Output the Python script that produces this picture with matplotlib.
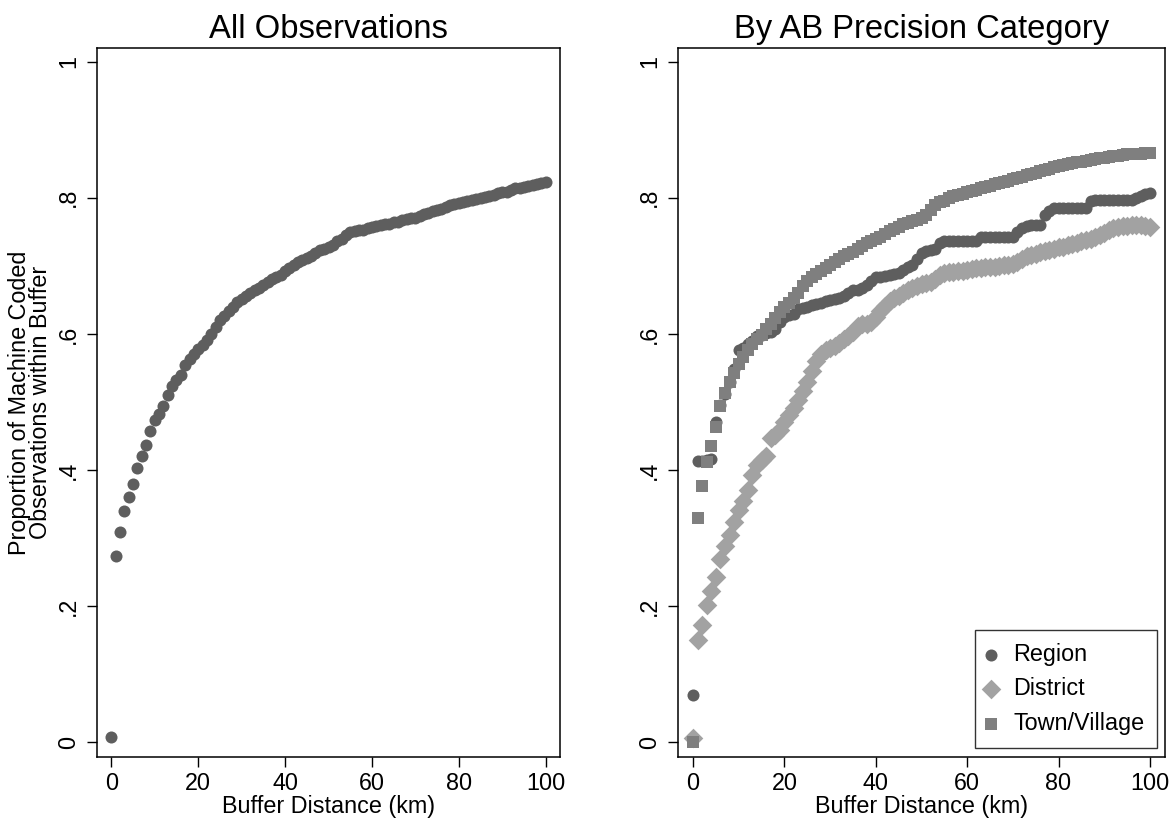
import matplotlib
matplotlib.use("Agg")
import matplotlib.pyplot as plt
import numpy as np

plt.rcParams['font.family'] = ['Liberation Sans', 'DejaVu Sans']

# buffer distance in km, one point per km
km = list(range(0, 101))

# All observations
all_obs = [0.008, 0.274, 0.309, 0.340, 0.360, 0.380, 0.403, 0.420, 0.437, 0.457,
           0.473, 0.482, 0.494, 0.511, 0.523, 0.532, 0.539, 0.554, 0.563, 0.570,
           0.578, 0.584, 0.591, 0.600, 0.610, 0.621, 0.627, 0.633, 0.640, 0.647,
           0.651, 0.656, 0.660, 0.664, 0.667, 0.672, 0.676, 0.681, 0.683, 0.686,
           0.693, 0.697, 0.701, 0.705, 0.709, 0.712, 0.714, 0.719, 0.723, 0.725,
           0.728, 0.731, 0.736, 0.740, 0.745, 0.750, 0.751, 0.752, 0.753, 0.755,
           0.757, 0.759, 0.760, 0.761, 0.762, 0.764, 0.765, 0.767, 0.769, 0.770,
           0.771, 0.773, 0.776, 0.778, 0.780, 0.782, 0.784, 0.786, 0.789, 0.791,
           0.792, 0.794, 0.795, 0.797, 0.798, 0.800, 0.801, 0.802, 0.804, 0.807,
           0.808, 0.809, 0.812, 0.814, 0.815, 0.816, 0.818, 0.819, 0.820, 0.822,
           0.823]

# by AB precision category
region = [0.069, 0.414, 0.414, 0.415, 0.416, 0.470, 0.495, 0.512, 0.530, 0.548,
          0.576, 0.580, 0.585, 0.590, 0.597, 0.599, 0.601, 0.603, 0.607, 0.618,
          0.625, 0.628, 0.630, 0.636, 0.638, 0.640, 0.642, 0.644, 0.646, 0.648,
          0.650, 0.652, 0.653, 0.655, 0.660, 0.664, 0.665, 0.668, 0.672, 0.678,
          0.683, 0.684, 0.685, 0.686, 0.688, 0.690, 0.694, 0.698, 0.702, 0.710,
          0.719, 0.722, 0.724, 0.725, 0.734, 0.736, 0.737, 0.737, 0.737, 0.737,
          0.737, 0.737, 0.737, 0.743, 0.743, 0.743, 0.743, 0.743, 0.743, 0.743,
          0.743, 0.750, 0.755, 0.758, 0.760, 0.760, 0.760, 0.775, 0.781, 0.785,
          0.785, 0.785, 0.785, 0.785, 0.785, 0.785, 0.785, 0.795, 0.797, 0.797,
          0.797, 0.797, 0.797, 0.797, 0.797, 0.797, 0.797, 0.800, 0.802, 0.805,
          0.807]

district = [0.006, 0.151, 0.173, 0.201, 0.222, 0.243, 0.270, 0.289, 0.305, 0.324,
            0.341, 0.355, 0.371, 0.393, 0.407, 0.415, 0.421, 0.447, 0.452, 0.459,
            0.470, 0.481, 0.491, 0.503, 0.516, 0.530, 0.545, 0.560, 0.571, 0.576,
            0.579, 0.582, 0.587, 0.592, 0.597, 0.603, 0.611, 0.615, 0.615, 0.617,
            0.625, 0.633, 0.641, 0.648, 0.653, 0.656, 0.660, 0.664, 0.667, 0.671,
            0.673, 0.675, 0.677, 0.680, 0.686, 0.690, 0.691, 0.691, 0.692, 0.693,
            0.694, 0.695, 0.697, 0.697, 0.698, 0.699, 0.699, 0.700, 0.701, 0.702,
            0.703, 0.706, 0.710, 0.714, 0.716, 0.718, 0.720, 0.722, 0.723, 0.725,
            0.727, 0.728, 0.730, 0.732, 0.734, 0.736, 0.738, 0.740, 0.742, 0.745,
            0.748, 0.752, 0.755, 0.757, 0.758, 0.759, 0.760, 0.760, 0.760, 0.759,
            0.757]

town = [0.000, 0.329, 0.376, 0.412, 0.436, 0.463, 0.494, 0.513, 0.529, 0.542,
        0.556, 0.566, 0.576, 0.585, 0.592, 0.599, 0.607, 0.615, 0.624, 0.632,
        0.639, 0.646, 0.653, 0.660, 0.670, 0.678, 0.683, 0.688, 0.692, 0.697,
        0.702, 0.706, 0.710, 0.714, 0.717, 0.721, 0.725, 0.729, 0.733, 0.736,
        0.739, 0.743, 0.747, 0.751, 0.754, 0.757, 0.761, 0.763, 0.766, 0.768,
        0.770, 0.775, 0.782, 0.789, 0.794, 0.796, 0.799, 0.802, 0.804, 0.806,
        0.808, 0.810, 0.812, 0.814, 0.816, 0.818, 0.820, 0.822, 0.823, 0.825,
        0.827, 0.829, 0.831, 0.833, 0.835, 0.837, 0.839, 0.841, 0.843, 0.845,
        0.846, 0.848, 0.850, 0.851, 0.852, 0.853, 0.854, 0.856, 0.857, 0.858,
        0.859, 0.860, 0.861, 0.862, 0.863, 0.864, 0.864, 0.865, 0.865, 0.866,
        0.866]

y_ticks = [0, 0.2, 0.4, 0.6, 0.8, 1]
y_ticklabels = ['0', '.2', '.4', '.6', '.8', '1']
x_ticks = [0, 20, 40, 60, 80, 100]

dark = '#5e5e5e'
light = '#a2a2a2'
mid = '#7f7f7f'

fs = 16.8

fig = plt.figure(figsize=(11.75, 8.21), dpi=100)
ax1 = fig.add_axes([97/1175, 1-757/821, (560-97)/1175, (757-48)/821])
ax2 = fig.add_axes([678/1175, 1-757/821, (1165-678)/1175, (757-48)/821])

ax1.scatter(km, all_obs, s=75, marker='o', color=dark, linewidths=0, zorder=3)

ax2.scatter(km, region, s=75, marker='o', color=dark, linewidths=0, zorder=3, label='Region')
ax2.scatter(km, district, s=100, marker='D', color=light, linewidths=0, zorder=3, label='District')
ax2.scatter(km, town, s=72, marker='s', color=mid, linewidths=0, zorder=4, label='Town/Village')

ax1.set_title('All Observations', fontsize=23.6, pad=7)
ax2.set_title('By AB Precision Category', fontsize=23.6, pad=7)

for ax in (ax1, ax2):
    ax.set_xlim(-3.3, 103.3)
    ax.set_ylim(-0.0216, 1.0201)
    ax.set_xticks(x_ticks)
    ax.set_yticks(y_ticks)
    ax.set_yticklabels(y_ticklabels, rotation=90, va='center')
    ax.tick_params(axis='both', direction='out', length=7, width=1, labelsize=fs, color='black')
    ax.tick_params(axis='y', pad=5)
    ax.tick_params(axis='x', pad=4)
    ax.set_xlabel('Buffer Distance (km)', fontsize=fs, labelpad=0)
    for sp in ax.spines.values():
        sp.set_linewidth(1.1)
        sp.set_color('black')

ax1.set_ylabel('Proportion of Machine Coded\nObservations within Buffer', fontsize=fs,
               labelpad=4, linespacing=0.9)

leg = ax2.legend(loc='lower right', bbox_to_anchor=(0.984, 0.0127), borderaxespad=0,
                 fontsize=fs, frameon=True, fancybox=False, edgecolor='black',
                 handlelength=0.3, handletextpad=0.8, labelspacing=0.5,
                 borderpad=0.55, markerscale=1.0)
leg.get_frame().set_linewidth(1.0)

fig.savefig('out.png', dpi=100, facecolor='white')
